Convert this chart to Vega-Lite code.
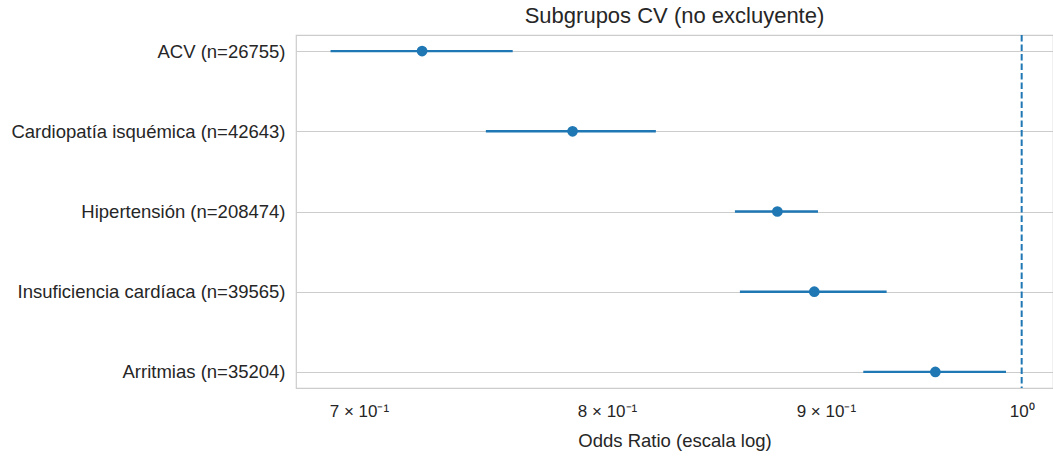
{
  "$schema": "https://vega.github.io/schema/vega-lite/v6.json",
  "width": 757,
  "height": 353,
  "autosize": {"type": "none"},
  "padding": {"left": 296, "top": 35, "right": 0, "bottom": 68},
  "background": "white",
  "config": {
    "font": "Liberation Sans",
    "view": {"stroke": "#cccccc", "strokeWidth": 1.2},
    "axis": {"labelColor": "#262626", "titleColor": "#262626", "labelFont": "Liberation Sans", "titleFont": "Liberation Sans"}
  },
  "title": {"text": "Subgrupos CV (no excluyente)", "fontSize": 22, "fontWeight": "normal", "color": "#262626", "offset": 6, "font": "Liberation Sans"},
  "data": {
    "values": [
      {"grupo": "ACV (n=26755)", "or": 0.7242, "low": 0.6894, "high": 0.7604},
      {"grupo": "Cardiopatía isquémica (n=42643)", "or": 0.7853, "low": 0.7495, "high": 0.8213},
      {"grupo": "Hipertensión (n=208474)", "or": 0.8768, "low": 0.8570, "high": 0.8962},
      {"grupo": "Insuficiencia cardíaca (n=39565)", "or": 0.8944, "low": 0.8593, "high": 0.9299},
      {"grupo": "Arritmias (n=35204)", "or": 0.9546, "low": 0.9183, "high": 0.9916}
    ]
  },
  "layer": [
    {
      "mark": {"type": "rule", "color": "#1f77b4", "strokeWidth": 2.3},
      "encoding": {
        "y": {
          "field": "grupo", "type": "nominal", "sort": null,
          "scale": {"type": "point", "padding": 0.2},
          "axis": {"title": null, "domain": false, "ticks": false, "grid": true, "gridColor": "#cccccc", "gridWidth": 1.2, "labelFontSize": 18.5, "labelPadding": 11, "labelLimit": 0}
        },
        "x": {
          "field": "low", "type": "quantitative",
          "scale": {"type": "log", "domain": [0.6767, 1.017], "nice": false, "zero": false},
          "axis": {
            "title": "Odds Ratio (escala log)", "titleFontSize": 18.5, "titleFontWeight": "normal", "titlePadding": 12,
            "values": [0.7, 0.8, 0.9, 1.0], "grid": false, "domain": false, "ticks": false,
            "labelFontSize": 17, "labelPadding": 15,
            "labelExpr": "datum.value == 1 ? '10⁰' : format(round(datum.value * 10), 'd') + ' × 10⁻¹'"
          }
        },
        "x2": {"field": "high"}
      }
    },
    {
      "mark": {"type": "point", "filled": true, "opacity": 1, "color": "#1f77b4", "size": 115, "shape": "circle"},
      "encoding": {
        "y": {"field": "grupo", "type": "nominal", "sort": null},
        "x": {"field": "or", "type": "quantitative"}
      }
    },
    {
      "data": {"values": [{"ref": 1}]},
      "mark": {"type": "rule", "color": "#1f77b4", "strokeWidth": 2, "strokeDash": [6.5, 3]},
      "encoding": {"x": {"field": "ref", "type": "quantitative"}}
    }
  ]
}
